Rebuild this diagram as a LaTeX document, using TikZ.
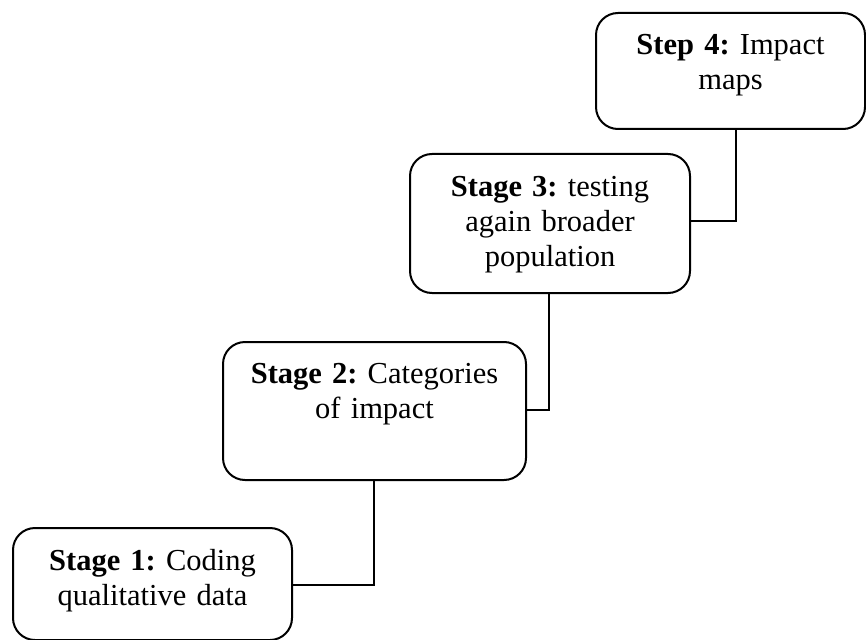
\documentclass[tikz,border=0pt]{standalone}
\usepackage{fontspec}
\setmainfont{Liberation Serif}
\begin{document}
\begin{tikzpicture}[x=1pt,y=-1pt,
  box/.style={draw, line width=2pt, rounded corners=22pt, inner sep=0pt, outer sep=0pt, anchor=north west},
  lbl/.style={anchor=base, align=center, inner sep=0pt, font=\fontsize{30.5}{35}\selectfont\frenchspacing},
  link/.style={line width=2pt}]
\useasboundingbox (0,0) rectangle (866,639);
% boxes
\node[box, minimum width=279pt, minimum height=112pt] (b1) at (13,528) {};
\node[box, minimum width=303pt, minimum height=138pt] (b2) at (223,342) {};
\node[box, minimum width=280pt, minimum height=139pt] (b3) at (410,154) {};
\node[box, minimum width=269pt, minimum height=116pt] (b4) at (596,13) {};
% labels
\node[lbl, text width=279pt] (t1) at (152.5,570) {\textbf{Stage 1:} Coding\\qualitative data};
\node[lbl, text width=303pt] (t2) at (374.5,383) {\textbf{Stage 2:} Categories\\of impact};
\node[lbl, text width=280pt] (t3) at (550,196) {\textbf{Stage 3:} testing\\again broader\\population};
\node[lbl, text width=269pt] (t4) at (730.5,55) {\textbf{Step 4:} Impact\\maps};
% connectors
\coordinate (c1) at (374,585);
\draw[link] (b1.east |- c1) -- (c1) -- (c1 |- b2.south);
\coordinate (c2) at (549,410);
\draw[link] (b2.east |- c2) -- (c2) -- (c2 |- b3.south);
\coordinate (c3) at (736,221);
\draw[link] (b3.east |- c3) -- (c3) -- (c3 |- b4.south);
\end{tikzpicture}
\end{document}
